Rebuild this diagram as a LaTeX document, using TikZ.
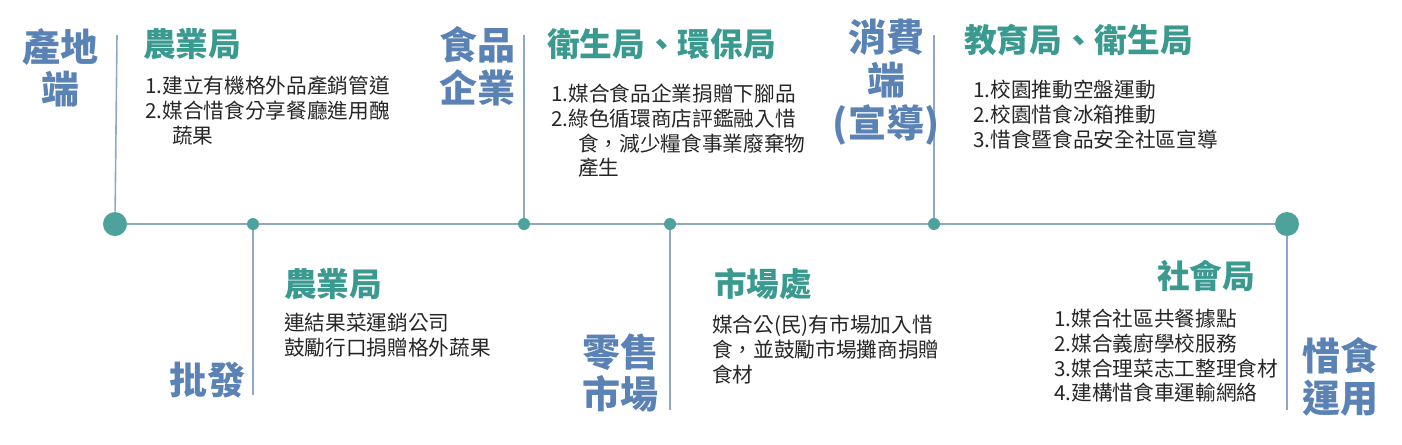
\documentclass[tikz,border=0pt]{standalone}
\usepackage{fontspec}
\setmainfont{Noto Sans CJK TC}
\definecolor{lbl}{HTML}{5B82B4}
\definecolor{hd}{HTML}{3A9A8F}
\definecolor{ln}{HTML}{8FA8C8}
\definecolor{dot}{HTML}{4DA39B}
\begin{document}
\begin{tikzpicture}[x=0.75pt,y=-0.75pt,
  lab/.style={text=lbl,font=\fontsize{28.5}{32}\selectfont\bfseries,align=center,inner sep=0pt},
  head/.style={text=hd,font=\fontsize{24.5}{28}\selectfont\bfseries,anchor=north west,inner sep=0pt},
  body/.style={text=black!85,font=\fontsize{15.5}{18.5}\selectfont,anchor=north west,align=left,inner sep=0pt},
  vl/.style={draw=ln,line width=1.2pt},
  big/.style={circle,fill=dot,minimum size=18pt,inner sep=0pt},
  small/.style={circle,fill=dot,minimum size=9pt,inner sep=0pt}]
\useasboundingbox (0,0) rectangle (1402,444);
\node[big] (d1) at (115,224) {};
\node[small] (d2) at (253,224) {};
\node[small] (d3) at (524,224) {};
\node[small] (d4) at (670,224) {};
\node[small] (d5) at (934,224) {};
\node[big] (d6) at (1287,224) {};
\draw[vl] (d1) -- (d2) -- (d3) -- (d4) -- (d5) -- (d6);
\coordinate (t1) at (117,35); \coordinate (t3) at (524,35); \coordinate (t5) at (934,35);
\coordinate (b2) at (253,395); \coordinate (b4) at (670,410); \coordinate (b6) at (1287,410);
\draw[vl] (d1) -- (t1); \draw[vl] (d3) -- (t3); \draw[vl] (d5) -- (t5);
\draw[vl] (d2) -- (b2); \draw[vl] (d4) -- (b4); \draw[vl] (d6) -- (b6);
\node[lab] (l1) at (60,68) {產地\\端};
\node[lab] (l2) at (207,380) {批發};
\node[lab] (l3) at (477,66) {食品\\企業};
\node[lab] (l4) at (620,373) {零售\\市場};
\node[lab] (l5) at (886,82) {消費\\端\\(宣導)};
\node[lab] (l6) at (1340,377) {惜食\\運用};
\node[head] (h1) at (143,28) {農業局};
\node[body] (b1) at (145,76) {1.建立有機格外品產銷管道\\2.媒合惜食分享餐廳進用醜\\\hspace*{1.3em}蔬果};
\node[head] (h2) at (284,268) {農業局};
\node[body] (bb2) at (284,313) {連結果菜運銷公司\\鼓勵行口捐贈格外蔬果};
\node[head] (h3) at (547,28) {衛生局、環保局};
\node[body] (bb3) at (551,84) {1.媒合食品企業捐贈下腳品\\2.綠色循環商店評鑑融入惜\\\hspace*{1.3em}食，減少糧食事業廢棄物\\\hspace*{1.3em}產生};
\node[head] (h4) at (714,268) {市場處};
\node[body] (bb4) at (712,315) {媒合公(民)有市場加入惜\\食，並鼓勵市場攤商捐贈\\食材};
\node[head] (h5) at (964,24) {教育局、衛生局};
\node[body] (bb5) at (973,80) {1.校園推動空盤運動\\2.校園惜食冰箱推動\\3.惜食暨食品安全社區宣導};
\node[head] (h6) at (1157,260) {社會局};
\node[body] (bb6) at (1054,309) {1.媒合社區共餐據點\\2.媒合義廚學校服務\\3.媒合理菜志工整理食材\\4.建構惜食車運輸網絡};
\end{tikzpicture}
\end{document}
